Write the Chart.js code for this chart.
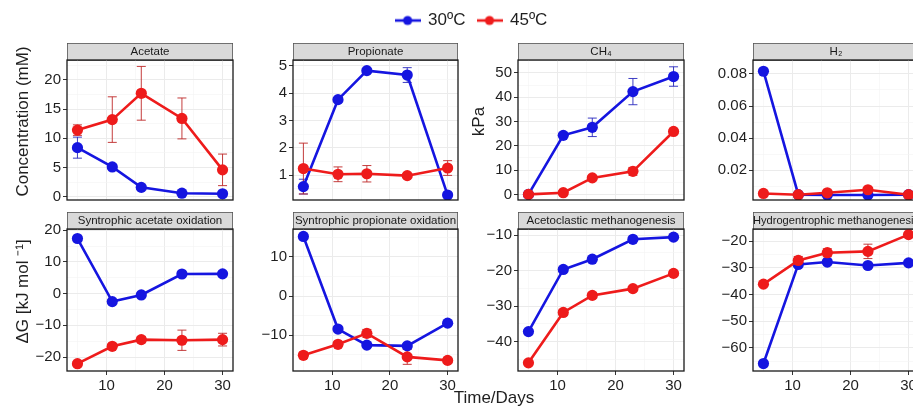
<!DOCTYPE html>
<html>
<head>
<meta charset="utf-8">
<script src="https://cdn.jsdelivr.net/npm/chart.js@4/dist/chart.umd.min.js"></script>
<style>
html,body{margin:0;padding:0;background:#fff;overflow:hidden;width:913px;height:407px;position:relative;}
canvas{position:absolute;}
</style>
</head>
<body>
<canvas id="frame"></canvas>
<canvas id="p1"></canvas><canvas id="p2"></canvas><canvas id="p3"></canvas><canvas id="p4"></canvas>
<canvas id="p5"></canvas><canvas id="p6"></canvas><canvas id="p7"></canvas><canvas id="p8"></canvas>
<script>
// ---------------- data ----------------
const days = [5, 11, 16, 23, 30];
const xTicks = [10, 20, 30];
const xTickLabels = ['10', '20', '30'];
const seriesNames = ['30ºC', '45ºC'];
const panelTitles = ['Acetate', 'Propionate', 'CH\u2084', 'H\u2082',
  'Syntrophic acetate oxidation', 'Syntrophic propionate oxidation',
  'Acetoclastic methanogenesis', 'Hydrogentrophic methanogenesis'];
const yTitles = ['Concentration (mM)', 'kPa', '\u0394G [kJ mol \u207B\u00B9]'];
const xTitle = 'Time/Days';

const acetate30 = [8.4, 5.1, 1.6, 0.6, 0.5];
const acetate30Err = [1.8, 0.4, 0.3, 0.2, 0.2];
const acetate45 = [11.4, 13.2, 17.7, 13.4, 4.6];
const acetate45Err = [0.9, 3.9, 4.6, 3.5, 2.7];

const propionate30 = [0.58, 3.76, 4.82, 4.66, 0.27];
const propionate30Err = [0.27, 0.08, 0.06, 0.27, 0.05];
const propionate45 = [1.24, 1.03, 1.05, 0.98, 1.26];
const propionate45Err = [0.93, 0.27, 0.3, 0.05, 0.27];

const ch4_30 = [0, 24.3, 27.6, 42.3, 48.5];
const ch4_30Err = [0.3, 1.0, 3.8, 5.4, 4.0];
const ch4_45 = [0, 0.7, 6.8, 9.5, 25.9];
const ch4_45Err = [0.2, 0.5, 0.8, 1.6, 0.8];

const h2_30 = [0.0817, 0.0047, 0.0045, 0.0045, 0.0047];
const h2_30Err = [0.0005, 0.0003, 0.0003, 0.0003, 0.0003];
const h2_45 = [0.0055, 0.0047, 0.0059, 0.0078, 0.0047];
const h2_45Err = [0.0004, 0.0004, 0.0005, 0.0008, 0.0004];

const sao30 = [17.4, -2.5, -0.4, 6.2, 6.25];
const sao30Err = [0.5, 0.5, 0.5, 0.5, 0.5];
const sao45 = [-22.1, -16.6, -14.5, -14.7, -14.5];
const sao45Err = [0.6, 0.8, 1.0, 3.2, 2.0];

const spo30 = [15.2, -8.4, -12.5, -12.7, -6.9];
const spo30Err = [0.5, 0.5, 0.5, 0.5, 0.5];
const spo45 = [-15.1, -12.3, -9.5, -15.5, -16.4];
const spo45Err = [0.8, 0.6, 1.0, 1.9, 0.6];

const am30 = [-37.2, -19.7, -16.8, -11.2, -10.6];
const am30Err = [0.5, 0.5, 0.5, 0.5, 0.5];
const am45 = [-46.0, -31.8, -27.0, -25.1, -20.8];
const am45Err = [0.6, 0.8, 0.8, 0.6, 0.6];

const hm30 = [-65.9, -28.7, -27.8, -29.1, -28.1];
const hm30Err = [0.5, 0.5, 0.5, 0.5, 0.5];
const hm45 = [-36.1, -27.2, -24.3, -23.8, -17.5];
const hm45Err = [0.8, 1.5, 1.5, 2.7, 0.8];

const acetateTicks = [0, 5, 10, 15, 20];
const acetateTickLabels = ['0', '5', '10', '15', '20'];
const propionateTicks = [1, 2, 3, 4, 5];
const propionateTickLabels = ['1', '2', '3', '4', '5'];
const ch4Ticks = [0, 10, 20, 30, 40, 50];
const ch4TickLabels = ['0', '10', '20', '30', '40', '50'];
const h2Ticks = [0.02, 0.04, 0.06, 0.08];
const h2TickLabels = ['0.02', '0.04', '0.06', '0.08'];
const saoTicks = [-20, -10, 0, 10, 20];
const saoTickLabels = ['\u221220', '\u221210', '0', '10', '20'];
const spoTicks = [-10, 0, 10];
const spoTickLabels = ['\u221210', '0', '10'];
const amTicks = [-40, -30, -20, -10];
const amTickLabels = ['\u221240', '\u221230', '\u221220', '\u221210'];
const hmTicks = [-60, -50, -40, -30, -20];
const hmTickLabels = ['\u221260', '\u221250', '\u221240', '\u221230', '\u221220'];

// ---------------- styling / layout ----------------
Chart.defaults.font.family = '"Liberation Sans", Arial, Helvetica, sans-serif';
const C30 = '#1515e0', C45 = '#ee1b1b';
const E30 = 'rgba(40,40,190,0.9)', E45 = 'rgba(190,40,40,0.9)';
const GRID_MAJOR = '#EBEBEB', GRID_MINOR = '#F4F4F4';
const TEXT = '#1f1f1f';
const X_MIN = 3.2, X_MAX = 31.8;
const STRIP_H = 17, PAD_R = 12, CAP = 4.5;

function withMinors(majors, labels, lo, hi) {
  const step = majors[1] - majors[0];
  const out = majors.map((v, i) => ({value: v, minor: false, lbl: labels[i]}));
  const ext = [majors[0] - step, ...majors, majors[majors.length - 1] + step];
  for (let i = 0; i < ext.length - 1; i++) {
    const m = (ext[i] + ext[i + 1]) / 2;
    if (m > lo && m < hi) out.push({value: m, minor: true, lbl: ''});
  }
  return out.sort((a, b) => a.value - b.value);
}
const toXY = arr => arr.map((y, i) => ({x: days[i], y}));

const panelDecor = {
  id: 'panelDecor',
  beforeDraw(chart) {
    const {ctx, chartArea: a} = chart;
    const tb = chart.titleBlock;
    ctx.save();
    ctx.fillStyle = '#D9D9D9';
    ctx.fillRect(a.left, tb.top, a.right - a.left, a.top - tb.top);
    ctx.strokeStyle = '#555';
    ctx.lineWidth = 0.8;
    ctx.strokeRect(a.left + 0.4, tb.top + 0.4, a.right - a.left - 0.8, a.top - tb.top);
    ctx.restore();
  },
  beforeDatasetsDraw(chart) {
    const {ctx, chartArea: a} = chart;
    const xs = chart.scales.x, ys = chart.scales.y;
    ctx.save();
    ctx.beginPath();
    ctx.rect(a.left, a.top, a.right - a.left, a.bottom - a.top);
    ctx.clip();
    chart.data.datasets.forEach(ds => {
      ctx.strokeStyle = ds.errColor;
      ctx.lineWidth = 1;
      ds.errors.forEach((e, j) => {
        const px = xs.getPixelForValue(ds.data[j].x);
        const v = ds.data[j].y;
        const y1 = ys.getPixelForValue(v - e), y2 = ys.getPixelForValue(v + e);
        ctx.beginPath();
        ctx.moveTo(px, y1); ctx.lineTo(px, y2);
        ctx.moveTo(px - CAP, y1); ctx.lineTo(px + CAP, y1);
        ctx.moveTo(px - CAP, y2); ctx.lineTo(px + CAP, y2);
        ctx.stroke();
      });
    });
    ctx.restore();
  },
  afterDatasetsDraw(chart) {
    const {ctx, chartArea: a} = chart;
    ctx.save();
    ctx.strokeStyle = '#1a1a1a';
    ctx.lineWidth = 1.3;
    ctx.strokeRect(a.left, a.top, a.right - a.left, a.bottom - a.top);
    ctx.restore();
  },
  afterDraw(chart, args, opts) {
    if (!opts.text) return;
    const {ctx, chartArea: a} = chart;
    const tb = chart.titleBlock;
    ctx.save();
    ctx.translate(opts.x, (tb.top + a.bottom) / 2);
    ctx.rotate(-Math.PI / 2);
    ctx.font = '17px "Liberation Sans", Arial, sans-serif';
    ctx.fillStyle = TEXT;
    ctx.textAlign = 'center';
    ctx.textBaseline = 'middle';
    ctx.fillText(opts.text, 0, 0);
    ctx.restore();
  }
};

function gridOpts(drawTicks) {
  return {
    color: c => (c.tick && c.tick.minor) ? GRID_MINOR : GRID_MAJOR,
    lineWidth: c => (c.tick && c.tick.minor) ? 0.6 : 1,
    tickColor: c => (c.tick && c.tick.minor) ? 'rgba(0,0,0,0)' : '#333',
    tickLength: 4,
    tickWidth: 1,
    drawTicks: drawTicks
  };
}

function makePanel(cfg) {
  const canvas = document.getElementById(cfg.id);
  const W = cfg.axisW + cfg.plotW + PAD_R;
  const H = STRIP_H + cfg.plotH + cfg.xAxisH;
  canvas.width = W; canvas.height = H;
  canvas.style.width = W + 'px'; canvas.style.height = H + 'px';
  canvas.style.left = (cfg.plotL - cfg.axisW) + 'px';
  canvas.style.top = cfg.stripTop + 'px';
  const yT = withMinors(cfg.yTicks, cfg.yLabels, cfg.yMin, cfg.yMax);
  const xT = withMinors(xTicks, xTickLabels, X_MIN, X_MAX);
  new Chart(canvas, {
    type: 'line',
    data: {
      datasets: [
        {label: seriesNames[0], data: toXY(cfg.s30), errors: cfg.e30, errColor: E30,
         borderColor: C30, backgroundColor: C30, pointBackgroundColor: C30, order: 1, clip: 0},
        {label: seriesNames[1], data: toXY(cfg.s45), errors: cfg.e45, errColor: E45,
         borderColor: C45, backgroundColor: C45, pointBackgroundColor: C45, order: 0, clip: 0}
      ]
    },
    options: {
      responsive: false, animation: false, devicePixelRatio: 1, events: [],
      layout: {padding: {left: 0, right: PAD_R, top: 0, bottom: 0}},
      elements: {
        line: {borderWidth: 2.6, tension: 0},
        point: {radius: 5.6, borderWidth: 0, hoverRadius: 5.6}
      },
      scales: {
        x: {
          type: 'linear', min: X_MIN, max: X_MAX, bounds: 'data',
          afterBuildTicks: s => { s.ticks = xT.map(t => ({...t})); },
          afterFit: s => { s.height = cfg.xAxisH; },
          border: {display: false},
          grid: gridOpts(cfg.showX),
          ticks: {display: cfg.showX, autoSkip: false, maxRotation: 0, padding: 2,
                  color: TEXT, font: {size: 15},
                  callback: (v, i, t) => t[i].lbl}
        },
        y: {
          type: 'linear', min: cfg.yMin, max: cfg.yMax, bounds: 'data',
          afterBuildTicks: s => { s.ticks = yT.map(t => ({...t})); },
          afterFit: s => { s.width = cfg.axisW; },
          border: {display: false},
          grid: gridOpts(true),
          ticks: {autoSkip: false, padding: 2, color: TEXT, font: {size: 15},
                  callback: (v, i, t) => t[i].lbl}
        }
      },
      plugins: {
        legend: {display: false},
        tooltip: {enabled: false},
        title: {display: true, text: cfg.title, fullSize: false, position: 'top', align: 'center',
                color: '#1a1a1a', font: {size: 11.5, lineHeight: 1.2, weight: 'normal'},
                padding: {top: 1.6, bottom: 1.6}},
        panelDecor: {text: cfg.sideTitle || '', x: cfg.sideX || 0}
      }
    },
    plugins: [panelDecor]
  });
}

const cols = [
  {plotL: 67, plotW: 166, axisW: 67},
  {plotL: 293, plotW: 165, axisW: 60},
  {plotL: 518, plotW: 166, axisW: 60},
  {plotL: 753, plotW: 166, axisW: 70}
];
const row1 = {stripTop: 43, plotH: 140, xAxisH: 14, showX: false};
const row2 = {stripTop: 212, plotH: 142, xAxisH: 30, showX: true};

makePanel({id: 'p1', ...cols[0], ...row1, title: panelTitles[0], s30: acetate30, e30: acetate30Err, s45: acetate45, e45: acetate45Err,
  yMin: -0.56, yMax: 23.4, yTicks: acetateTicks, yLabels: acetateTickLabels, sideTitle: yTitles[0], sideX: 23});
makePanel({id: 'p2', ...cols[1], ...row1, title: panelTitles[1], s30: propionate30, e30: propionate30Err, s45: propionate45, e45: propionate45Err,
  yMin: 0.09, yMax: 5.21, yTicks: propionateTicks, yLabels: propionateTickLabels});
makePanel({id: 'p3', ...cols[2], ...row1, title: panelTitles[2], s30: ch4_30, e30: ch4_30Err, s45: ch4_45, e45: ch4_45Err,
  yMin: -2.3, yMax: 55.3, yTicks: ch4Ticks, yLabels: ch4TickLabels, sideTitle: yTitles[1], sideX: 21});
makePanel({id: 'p4', ...cols[3], ...row1, title: panelTitles[3], s30: h2_30, e30: h2_30Err, s45: h2_45, e45: h2_45Err,
  yMin: 0.0014, yMax: 0.0887, yTicks: h2Ticks, yLabels: h2TickLabels});
makePanel({id: 'p5', ...cols[0], ...row2, title: panelTitles[4], s30: sao30, e30: sao30Err, s45: sao45, e45: sao45Err,
  yMin: -24.4, yMax: 20.4, yTicks: saoTicks, yLabels: saoTickLabels, sideTitle: yTitles[2], sideX: 23});
makePanel({id: 'p6', ...cols[1], ...row2, title: panelTitles[5], s30: spo30, e30: spo30Err, s45: spo45, e45: spo45Err,
  yMin: -19.1, yMax: 17.1, yTicks: spoTicks, yLabels: spoTickLabels});
makePanel({id: 'p7', ...cols[2], ...row2, title: panelTitles[6], s30: am30, e30: am30Err, s45: am45, e45: am45Err,
  yMin: -48.3, yMax: -8.3, yTicks: amTicks, yLabels: amTickLabels});
makePanel({id: 'p8', ...cols[3], ...row2, title: panelTitles[7], s30: hm30, e30: hm30Err, s45: hm45, e45: hm45Err,
  yMin: -68.7, yMax: -15.4, yTicks: hmTicks, yLabels: hmTickLabels});

// ---------------- frame: legend + x title ----------------
function legendIcon(color) {
  const c = document.createElement('canvas');
  c.width = 26; c.height = 12;
  const g = c.getContext('2d');
  g.strokeStyle = color; g.lineWidth = 2.6;
  g.beginPath(); g.moveTo(0, 6); g.lineTo(26, 6); g.stroke();
  g.fillStyle = color;
  g.beginPath(); g.arc(13, 6, 4.6, 0, Math.PI * 2); g.fill();
  return c;
}
const legendIcons = [legendIcon(C30), legendIcon(C45)];
const frame = document.getElementById('frame');
frame.width = 943; frame.height = 407;
frame.style.width = '943px'; frame.style.height = '407px';
frame.style.left = '0px'; frame.style.top = '0px';
new Chart(frame, {
  type: 'line',
  data: {datasets: seriesNames.map((n, i) => ({label: n, data: [], borderColor: i ? C45 : C30, backgroundColor: i ? C45 : C30}))},
  options: {
    responsive: false, animation: false, devicePixelRatio: 1, events: [],
    layout: {padding: 0},
    scales: {
      x: {type: 'linear', display: true, grid: {display: false, drawTicks: false}, border: {display: false},
          ticks: {display: false},
          title: {display: true, text: xTitle, color: TEXT, font: {size: 17, lineHeight: 1}, padding: 0}},
      y: {display: true, grid: {display: false, drawTicks: false}, border: {display: false}, ticks: {display: false},
          afterFit: s => { s.width = 45; }}
    },
    plugins: {
      tooltip: {enabled: false},
      legend: {
        display: true, position: 'top', align: 'center',
        labels: {
          usePointStyle: true, pointStyleWidth: 24, color: TEXT, font: {size: 17}, padding: 12,
          generateLabels: chart => chart.data.datasets.map((ds, i) => ({
            text: ds.label, pointStyle: legendIcons[i], fillStyle: ds.borderColor,
            strokeStyle: ds.borderColor, lineWidth: 0, hidden: false, datasetIndex: i, fontColor: TEXT
          }))
        }
      }
    }
  }
});
</script>
</body>
</html>
